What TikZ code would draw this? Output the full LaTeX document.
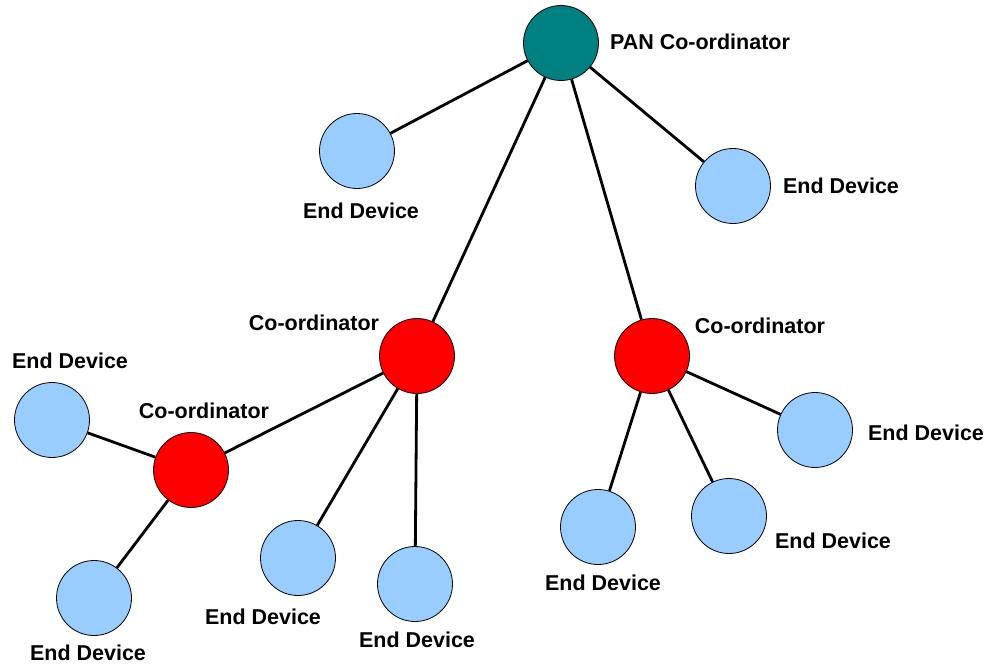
\documentclass[tikz,border=0pt]{standalone}
\usepackage{fontspec}
\setmainfont{Liberation Sans}
\definecolor{teal0}{RGB}{0,128,128}
\definecolor{lblue}{RGB}{153,204,255}
\definecolor{red0}{RGB}{255,0,0}
\begin{document}
\begin{tikzpicture}[x=1pt,y=-1pt,
  dev/.style={circle,draw=black,line width=0.8pt,minimum size=75pt,inner sep=0pt},
  enddev/.style={dev,fill=lblue},
  coord/.style={dev,fill=red0},
  pan/.style={dev,fill=teal0},
  lbl/.style={inner sep=0pt,font=\fontsize{21.5}{25}\selectfont\bfseries},
  link/.style={line width=2.8pt,black}]
\useasboundingbox (0,0) rectangle (988,666);
\node[pan] (P) at (561,43) {};
\node[enddev] (E1) at (357,151) {};
\node[enddev] (E2) at (733,186) {};
\node[coord] (C1) at (417,356) {};
\node[coord] (C2) at (652,356) {};
\node[coord] (C3) at (191,470) {};
\node[enddev] (E3) at (52,420) {};
\node[enddev] (E4) at (94,598) {};
\node[enddev] (E5) at (298,558) {};
\node[enddev] (E6) at (415,584) {};
\node[enddev] (E7) at (598,527) {};
\node[enddev] (E8) at (729,516) {};
\node[enddev] (E9) at (815,430) {};
\draw[link] (P) -- (E1);
\draw[link] (P) -- (E2);
\draw[link] (P) -- (C1);
\draw[link] (P) -- (C2);
\draw[link] (C1) -- (C3);
\draw[link] (C1) -- (E5);
\draw[link] (C1) -- (E6);
\draw[link] (C2) -- (E7);
\draw[link] (C2) -- (E8);
\draw[link] (C2) -- (E9);
\draw[link] (C3) -- (E3);
\draw[link] (C3) -- (E4);
\node[lbl] (LP) at (700,42) {PAN Co-ordinator};
\node[lbl] (L1) at (361,211) {End Device};
\node[lbl] (L2) at (841,186) {End Device};
\node[lbl] (LC1) at (314,323) {Co-ordinator};
\node[lbl] (LC2) at (760,326) {Co-ordinator};
\node[lbl] (LC3) at (204,411) {Co-ordinator};
\node[lbl] (L3) at (70,361) {End Device};
\node[lbl] (L4) at (88,653) {End Device};
\node[lbl] (L5) at (263,617) {End Device};
\node[lbl] (L6) at (417,640) {End Device};
\node[lbl] (L7) at (603,583) {End Device};
\node[lbl] (L8) at (833,541) {End Device};
\node[lbl] (L9) at (926,433) {End Device};
\end{tikzpicture}
\end{document}
